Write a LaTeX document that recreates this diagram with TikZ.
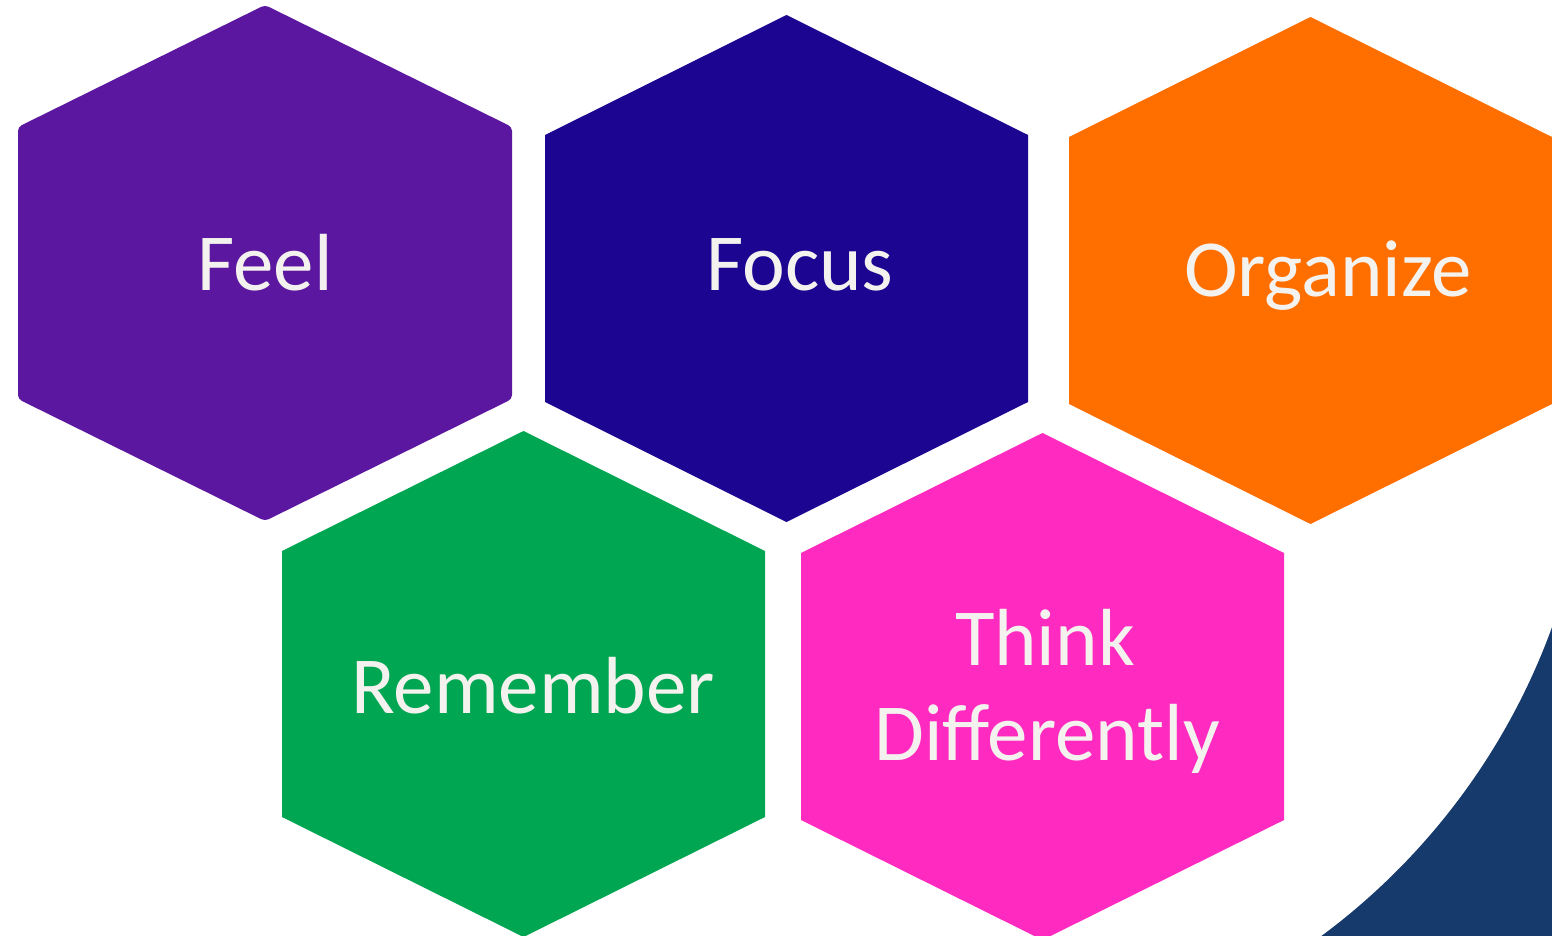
\documentclass[tikz,border=0pt]{standalone}
\usepackage{fontspec}
\setmainfont{Carlito}
\definecolor{feelc}{HTML}{5B17A0}
\definecolor{focusc}{HTML}{1B0591}
\definecolor{organizec}{HTML}{FF6F00}
\definecolor{rememberc}{HTML}{00A651}
\definecolor{thinkc}{HTML}{FF2ABF}
\definecolor{arcc}{HTML}{163A6C}
\definecolor{labelc}{HTML}{F4F2EE}
% pointy-top hexagon: #1 centre x, #2 centre y, #3 half width, #4 tip offset, #5 side offset
\newcommand{\hexpath}[5]{%
  (#1,#2-#4) -- (#1+#3,#2-#5) -- (#1+#3,#2+#5) -- (#1,#2+#4)
  -- (#1-#3,#2+#5) -- (#1-#3,#2-#5) -- cycle}
\tikzset{
  cell/.style={fill=#1, draw=none},
  celltext/.style={text=labelc, font=\fontsize{81}{95}\selectfont, anchor=base, inner sep=0pt, align=center},
}
\begin{document}
\begin{tikzpicture}[x=1pt, y=-1pt]
  \useasboundingbox (0,0) rectangle (1552,936);
  \clip (0,0) rectangle (1552,936);
  \fill[white] (0,0) rectangle (1552,936);
  % dark corner piece outside a large circle
  \begin{scope}
    \clip (1300,600) rectangle (1560,950);
    \fill[arcc, even odd rule] (1280,580) rectangle (1580,970)
          (924,399) circle[radius=668];
  \end{scope}
  % the five cells
  \fill[cell=feelc, rounded corners=4pt] \hexpath{265}{263}{247}{258}{136};
  \fill[cell=focusc]     \hexpath{786.5}{268.5}{241.5}{253.5}{133.5};
  \fill[cell=organizec]  \hexpath{1310.5}{270.5}{241.5}{253.5}{133.5};
  \fill[cell=rememberc]  \hexpath{523.5}{684}{241.5}{253}{133};
  \fill[cell=thinkc]     \hexpath{1042.5}{686.5}{241.5}{253.5}{133.5};
  % labels
  \node[celltext] (feel)     at (265,290)  {Feel};
  \node[celltext] (focus)    at (800,290)  {Focus};
  \node[celltext] (organize) at (1328,296) {Organize};
  \node[celltext] (remember) at (533,713)  {Remember};
  \node[celltext] (think)    at (1045,665) {Think};
  \node[celltext] (diff)     at (1047,760) {Differently};
\end{tikzpicture}
\end{document}
